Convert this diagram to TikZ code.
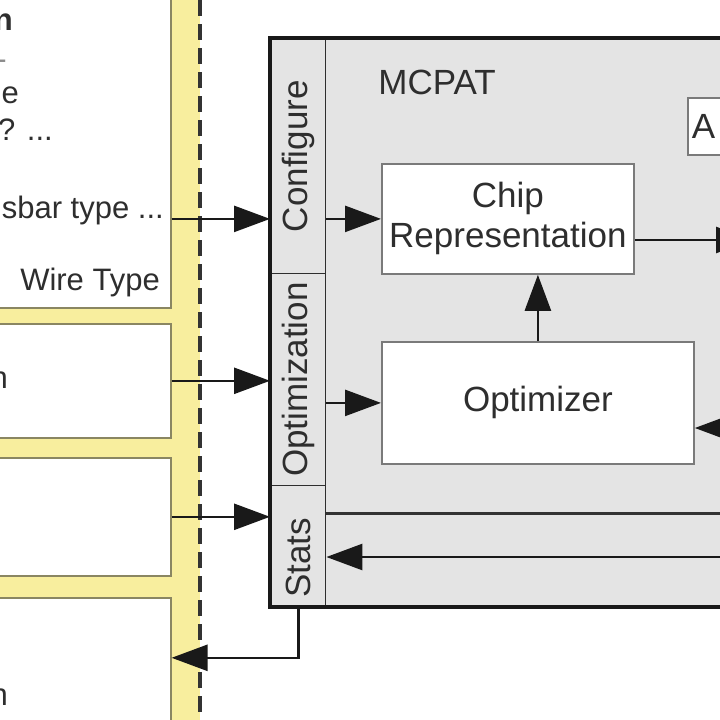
\documentclass[tikz,border=0pt]{standalone}
\usepackage{fontspec}
\setmainfont{Liberation Sans}
\usepackage{tikz}
\usetikzlibrary{arrows.meta}
\definecolor{padyellow}{HTML}{F8EE9E}
\definecolor{padedge}{HTML}{8A8662}
\definecolor{mcgrey}{HTML}{E4E4E4}
\definecolor{inkgrey}{HTML}{2E2E2E}
\definecolor{rimgrey}{HTML}{7A7A7A}

\begin{document}
\begin{tikzpicture}[
			x=1pt,y=-1pt,
			inbox/.style={draw=padedge,fill=white,line width=1.6pt,anchor=north west,
				inner sep=0pt,minimum width=240pt},
			blk/.style={draw=rimgrey,fill=white,line width=1.8pt,anchor=north west,inner sep=0pt},
			sect/.style={draw=inkgrey,line width=1.4pt,anchor=north west,inner sep=0pt,minimum width=55pt},
			conn/.style={-{Triangle[length=36pt,width=26pt]},draw=black!90,line width=2.6pt},
			wire/.style={draw=black!80,line width=3pt},
			dashline/.style={draw=black!80,line width=3.4pt,dash pattern=on 16pt off 8pt},
			lbl/.style={font=\fontsize{35}{40}\selectfont,text=inkgrey},
			side/.style={font=\fontsize{31}{36}\selectfont,text=inkgrey,anchor=base east,inner sep=0pt}]
			\useasboundingbox (0,0) rectangle (720,720);
			\clip (0,0) rectangle (720,720);
			\fill[padyellow] (0,0) rectangle (200,720);
			\node[inbox,minimum height=340pt] (cfgin) at (-70,-33) {};
			\node[inbox,minimum height=114pt] (optin) at (-70,323) {};
			\node[inbox,minimum height=118pt] (statin) at (-70,457) {};
			\node[inbox,minimum height=160pt] (outbox) at (-70,597) {};
			\draw[dashline] (200,0) -- (200,720);
			\node[side,font=\bfseries\fontsize{31}{36}\selectfont] (cfghead) at (13,30) {n};
			\node[side,text=black!45] (cfgdash) at (7,69) {-};
			\node[side] (cfgtxta) at (19,103) {e};
			\node[side] (cfgtxtb) at (53,140) {? ...};
			\node[side] (cfgtxtc) at (164,218) {sbar type ...};
			\node[side] (cfgtxtd) at (160,290) {Wire Type};
			\node[side] (opttxt) at (8,388) {n};
			\node[side] (outtxt) at (8,705) {n};
			\node[fill=mcgrey,anchor=north west,inner sep=0pt,outer sep=0pt,
				minimum width=500pt,minimum height=569pt] (mcpat) at (270,38) {};
			\node[sect,minimum height=235pt] (cfgsec) at (270,38) {};
			\node[sect,minimum height=212pt] (optsec) at (270,273) {};
			\node[sect,minimum height=122pt] (statsec) at (270,485) {};
			\draw[draw=black!90,line width=3.5pt] (mcpat.north west) rectangle (mcpat.south east);
			\node[lbl,rotate=90] (cfglbl) at (cfgsec.center) {Configure};
			\node[lbl,rotate=90] (optlbl) at (optsec.center) {Optimization};
			\node[lbl,rotate=90] (statlbl) at ([yshift=-11pt]statsec.center) {Stats};
			\node[lbl] (mcname) at (437,82) {MCPAT};
			\node[blk,lbl,minimum width=252pt,minimum height=110pt,align=center] (chip) at (381,163) {Chip\\Representation};
			\node[blk,lbl,minimum width=312pt,minimum height=122pt] (optim) at (381,341) {Optimizer};
			\node[blk,lbl,minimum height=57pt,text width=72pt,inner xsep=4pt,align=left] (abox) at (687,97) {A};
			\coordinate (pwrout) at (752,240);
			\coordinate (fback) at (760,428);
			\coordinate (statout) at (760,513);
			\coordinate (statback) at (760,557);
			\draw[conn] (cfgin.east |- chip.west) -- (cfgsec.west |- chip.west);
			\draw[conn] (cfgsec.east |- chip.west) -- (chip.west);
			\draw[conn] (optin.east) -- (optsec.west |- optin.east);
			\draw[conn] (optsec.east |- optim.west) -- (optim.west);
			\draw[conn] (statin.east) -- (statsec.west |- statin.east);
			\draw[conn] (optim.north) -- (optim.north |- chip.south);
			\draw[conn] (chip.east |- pwrout) -- (pwrout);
			\draw[conn] (fback) -- (optim.east |- fback);
			\draw[wire] (statsec.east |- statout) -- (statout);
			\draw[conn] (statback) -- (statsec.east |- statback);
			\draw[conn] (statsec.south) |- ([yshift=20pt]outbox.east);
		\end{tikzpicture}
\end{document}
